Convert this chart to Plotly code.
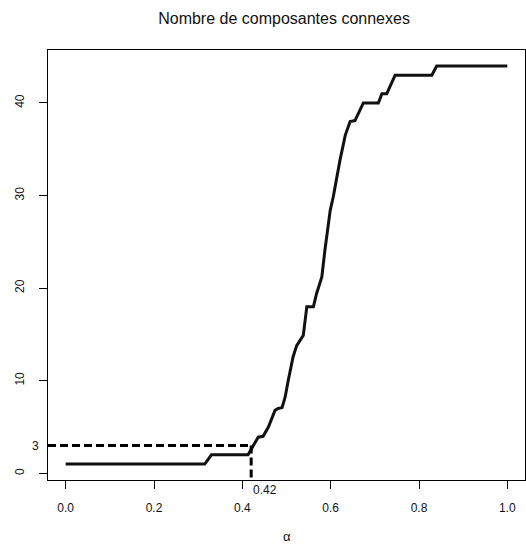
import plotly.graph_objects as go

# Data
alpha = [0.0, 0.315, 0.33, 0.413, 0.425, 0.436, 0.447, 0.459, 0.474, 0.481, 0.490,
         0.497, 0.504, 0.515, 0.523, 0.538, 0.546, 0.557, 0.561, 0.568, 0.580, 0.587,
         0.599, 0.606, 0.614, 0.621, 0.633, 0.644, 0.655, 0.667, 0.674, 0.708, 0.716,
         0.727, 0.746, 0.829, 0.840, 1.0]
n_comp = [1, 1, 2, 2, 3, 3.9, 4, 5, 6.8, 7, 7.1,
          8.25, 10.05, 12.6, 13.8, 14.9, 18, 18, 18, 19.4, 21.2, 24.1,
          28.4, 29.9, 32, 33.8, 36.5, 38, 38.1, 39.2, 40, 40, 41,
          41, 43, 43, 44, 44]

alpha_star = 0.42
n_star = 3

x_ticks = [0.0, 0.2, 0.4, 0.6, 0.8, 1.0]
y_ticks = [0, 10, 20, 30, 40]

x_range = [-0.04, 1.04]
y_range = [-0.72, 45.72]

FONT = "Liberation Sans, Arial, Helvetica, sans-serif"

fig = go.Figure()
fig.add_trace(go.Scatter(x=alpha, y=n_comp, mode="lines",
                         line=dict(color="#111111", width=3), showlegend=False))
fig.add_trace(go.Scatter(x=[x_range[0], alpha_star], y=[n_star, n_star], mode="lines",
                         line=dict(color="#000000", width=3, dash="8px,4px"), showlegend=False))
fig.add_trace(go.Scatter(x=[alpha_star, alpha_star], y=[n_star, y_range[0]], mode="lines",
                         line=dict(color="#000000", width=3, dash="8px,4px"), showlegend=False))

fig.update_layout(
    width=526, height=545,
    margin=dict(l=48, r=1, t=50, b=65),
    paper_bgcolor="white", plot_bgcolor="white",
    font=dict(family=FONT, size=12, color="#111111"),
    title=dict(text="Nombre de composantes connexes", x=0.54, xanchor="center",
               y=1 - 18 / 545, yanchor="middle", font=dict(size=16, family=FONT)),
    xaxis=dict(range=x_range, tickvals=x_ticks, tickformat=".1f",
               showline=True, mirror=True, linecolor="#000000", linewidth=1,
               ticks="outside", ticklen=8, tickcolor="#000000", ticklabelstandoff=9,
               showgrid=False, zeroline=False),
    yaxis=dict(range=y_range, tickvals=y_ticks, tickangle=-90,
               showline=True, mirror=True, linecolor="#000000", linewidth=1,
               ticks="outside", ticklen=8, tickcolor="#000000", ticklabelstandoff=10,
               showgrid=False, zeroline=False),
    annotations=[
        dict(text="α", xref="paper", yref="paper", x=0.5, y=-56 / 430,
             xanchor="center", yanchor="middle", showarrow=False, font=dict(size=13)),
        dict(text=str(n_star), xref="paper", yref="y", x=-13 / 477, y=n_star,
             xanchor="center", yanchor="middle", showarrow=False, font=dict(size=12)),
        dict(text=f"{alpha_star:.2f}", xref="x", yref="paper", x=alpha_star, y=-10 / 430,
             xanchor="left", xshift=0, yanchor="middle", showarrow=False, font=dict(size=12)),
    ],
)

fig.write_html("out.html", config={"displayModeBar": False},
               post_script="document.body.style.margin='0';document.body.style.overflow='hidden';")
